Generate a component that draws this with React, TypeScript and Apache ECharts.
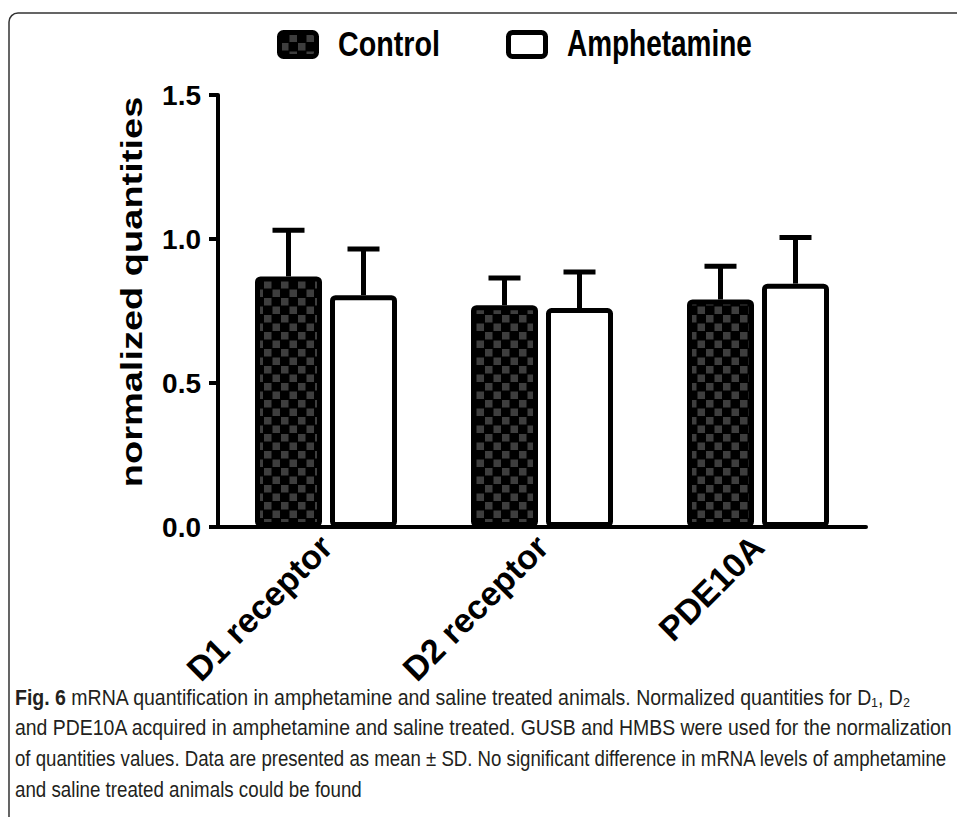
import React, { useEffect, useRef } from "react";
import * as echarts from "echarts";

const categories = ["D1 receptor", "D2 receptor", "PDE10A"];
const seriesNames = ["Control", "Amphetamine"];
const controlMean = [0.87, 0.77, 0.79];
const controlSd = [0.16, 0.095, 0.115];
const amphetamineMean = [0.805, 0.76, 0.845];
const amphetamineSd = [0.16, 0.125, 0.16];
const yMin = 0;
const yMax = 1.5;
const yInterval = 0.5;
const yAxisTitle = "normalized quantities";
const captionBold = "Fig. 6";
const captionLines = [
  " mRNA quantification in amphetamine and saline treated animals. Normalized quantities for D₁, D₂",
  "and PDE10A acquired in amphetamine and saline treated. GUSB and HMBS were used for the normalization",
  "of quantities values. Data are presented as mean ± SD. No significant difference in mRNA levels of amphetamine",
  "and saline treated animals could be found",
];

const SANS = '"Liberation Sans", Arial, Helvetica, sans-serif';
const NARROW = '"Liberation Sans Narrow", "Liberation Sans", Arial, sans-serif';

export default function App() {
  const ref = useRef<HTMLDivElement>(null);

  useEffect(() => {
    document.body.style.margin = "0";
    const el = ref.current;
    if (!el) return;
    const chart = echarts.init(el, null, { renderer: "svg" });

    // checkerboard pattern
    const cv = document.createElement("canvas");
    cv.width = 34;
    cv.height = 34;
    const cx = cv.getContext("2d")!;
    cx.fillStyle = "#000";
    cx.fillRect(0, 0, 34, 34);
    cx.fillStyle = "#3e3e3e";
    cx.fillRect(1, 1, 15, 15);
    cx.fillRect(18, 18, 15, 15);
    const checker: any = { image: cv.toDataURL(), repeat: "repeat", imageWidth: 17, imageHeight: 17 };

    const mctx = document.createElement("canvas").getContext("2d")!;
    const measure = (t: string, font: string) => {
      mctx.font = font;
      return mctx.measureText(t).width;
    };

    // caption fitting
    const capSize = 22;
    const capFont = (b: boolean) => `${b ? "bold " : ""}${capSize}px ${NARROW}`;
    const capTargets = [897, 938, 933, 347];
    const capY = [697, 727, 758, 789];
    const captionEls = captionLines.map((line, i) => {
      const natural = (i === 0 ? measure(captionBold, capFont(true)) : 0) + measure(line, capFont(false));
      const style: any = {
        text: i === 0 ? `{b|${captionBold}}${line}` : line,
        fontSize: capSize,
        fontFamily: NARROW,
        fill: "#231f20",
        textVerticalAlign: "middle",
        verticalAlign: "middle",
      };
      if (i === 0) {
        style.rich = { b: { fontWeight: "bold", fontSize: capSize, fontFamily: NARROW, fill: "#231f20" } };
      }
      return { type: "text", x: 15, y: capY[i], scaleX: capTargets[i] / natural, silent: true, style };
    });

    // legend drawn as graphic (condensed text)
    const legFontSize = 36;
    const legFont = `bold ${legFontSize}px ${SANS}`;
    const legendItems = [
      { name: seriesNames[0], fill: checker, iconX: 279.5, textX: 338, target: 102 },
      { name: seriesNames[1], fill: "#fff", iconX: 508.5, textX: 567, target: 185 },
    ];
    const legendEls: any[] = [];
    legendItems.forEach((it) => {
      legendEls.push({
        type: "rect",
        silent: true,
        shape: { x: it.iconX, y: 32.5, width: 37, height: 24, r: 4 },
        style: { fill: it.fill, stroke: "#000", lineWidth: 5 },
      });
      legendEls.push({
        type: "text",
        silent: true,
        x: it.textX,
        y: 44,
        scaleX: it.target / measure(it.name, legFont),
        style: {
          text: it.name,
          fontFamily: SANS,
          fontWeight: "bold",
          fontSize: legFontSize,
          fill: "#000",
          textVerticalAlign: "middle",
          verticalAlign: "middle",
        },
      });
    });

    const barW = 67;
    const gapPx = 8;
    const off = (barW + gapPx) / 2;

    const errSeries = (name: string, means: number[], sds: number[], offset: number) => ({
      type: "custom",
      name,
      z: 1,
      silent: true,
      encode: { x: 0, y: [1, 2] },
      data: means.map((m, i) => [i, m, m + sds[i]]),
      renderItem: (params: any, api: any) => {
        const base = api.coord([api.value(0), api.value(1)]);
        const top = api.coord([api.value(0), api.value(2)]);
        const x = base[0] + offset;
        return {
          type: "group",
          children: [
            { type: "line", shape: { x1: x, y1: base[1], x2: x, y2: top[1] }, style: { stroke: "#000", lineWidth: 5 } },
            { type: "line", shape: { x1: x - 16, y1: top[1], x2: x + 16, y2: top[1] }, style: { stroke: "#000", lineWidth: 5 } },
          ],
        };
      },
    });

    const option: any = {
      animation: false,
      backgroundColor: "#fff",
      grid: { left: 218, right: 91, top: 95, bottom: 290, containLabel: false },
      xAxis: {
        type: "category",
        data: categories,
        axisLine: { show: true, lineStyle: { color: "#000", width: 4 } },
        axisTick: { show: false },
        axisLabel: { rotate: 45, margin: 14, color: "#000", fontFamily: SANS, fontWeight: "bold", fontSize: 34 },
        splitLine: { show: false },
      },
      yAxis: {
        type: "value",
        min: yMin,
        max: yMax,
        interval: yInterval,
        axisLine: { show: true, lineStyle: { color: "#000", width: 4 } },
        axisTick: { show: true, length: 9, lineStyle: { color: "#000", width: 4 } },
        axisLabel: {
          margin: 17,
          color: "#000",
          fontFamily: SANS,
          fontWeight: "bold",
          fontSize: 28,
          formatter: (v: number) => v.toFixed(1),
        },
        splitLine: { show: false },
      },
      series: [
        {
          type: "bar",
          name: seriesNames[0],
          data: controlMean,
          barWidth: barW,
          barGap: `${(gapPx / barW) * 100}%`,
          z: 3,
          itemStyle: { color: checker, borderColor: "#000", borderWidth: 5, borderRadius: 3 },
        },
        {
          type: "bar",
          name: seriesNames[1],
          data: amphetamineMean,
          barWidth: barW,
          barGap: `${(gapPx / barW) * 100}%`,
          z: 3,
          itemStyle: { color: "#fff", borderColor: "#000", borderWidth: 5, borderRadius: 3 },
        },
        errSeries("Control SD", controlMean, controlSd, -off),
        errSeries("Amphetamine SD", amphetamineMean, amphetamineSd, off),
      ],
      graphic: [
        {
          type: "rect",
          shape: { x: 9, y: 13, width: 1000, height: 900, r: 9 },
          style: { fill: "none", stroke: "#333", lineWidth: 1.5 },
          silent: true,
        },
        ...legendEls,
        {
          type: "text",
          x: 132,
          y: 292,
          rotation: Math.PI / 2,
          scaleY: 0.77,
          silent: true,
          style: {
            text: yAxisTitle,
            fontFamily: SANS,
            fontWeight: "bold",
            fontSize: 38,
            fill: "#000",
            textAlign: "center",
            align: "center",
            textVerticalAlign: "middle",
            verticalAlign: "middle",
          },
        },
        ...captionEls,
      ],
    };

    chart.setOption(option);
    return () => chart.dispose();
  }, []);

  return <div ref={ref} style={{ width: 957, height: 817 }} />;
}
